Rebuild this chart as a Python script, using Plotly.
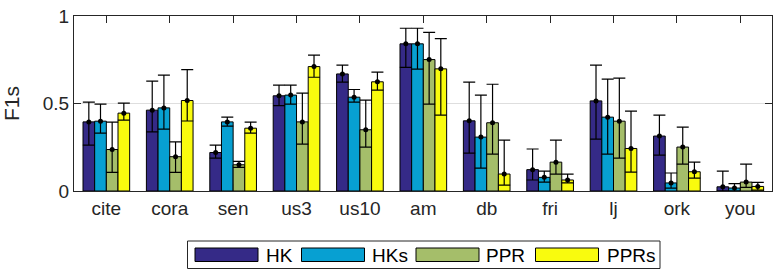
import plotly.graph_objects as go

categories = ["cite", "cora", "sen", "us3", "us10", "am", "db", "fri", "lj", "ork", "you"]
series_names = ["HK", "HKs", "PPR", "PPRs"]
colors = ["#352a87", "#07a0d2", "#a5be6a", "#f9fb0e"]

hk_mean = [0.395, 0.462, 0.220, 0.544, 0.669, 0.841, 0.401, 0.122, 0.515, 0.314, 0.024]
hk_upper = [0.508, 0.628, 0.262, 0.605, 0.719, 0.930, 0.622, 0.240, 0.719, 0.434, 0.114]
hk_lower = [0.262, 0.338, 0.188, 0.488, 0.622, 0.707, 0.217, 0.063, 0.297, 0.205, 0.000]

hks_mean = [0.399, 0.475, 0.395, 0.548, 0.536, 0.841, 0.308, 0.078, 0.422, 0.046, 0.017]
hks_upper = [0.496, 0.662, 0.422, 0.605, 0.580, 0.930, 0.548, 0.114, 0.639, 0.103, 0.042]
hks_lower = [0.331, 0.354, 0.371, 0.496, 0.508, 0.696, 0.131, 0.051, 0.211, 0.017, 0.000]

ppr_mean = [0.237, 0.196, 0.150, 0.395, 0.350, 0.751, 0.390, 0.165, 0.399, 0.251, 0.051]
ppr_upper = [0.394, 0.281, 0.169, 0.559, 0.519, 0.907, 0.610, 0.291, 0.645, 0.365, 0.154]
ppr_lower = [0.106, 0.106, 0.135, 0.268, 0.251, 0.496, 0.211, 0.097, 0.188, 0.154, 0.021]

pprs_mean = [0.445, 0.517, 0.359, 0.711, 0.624, 0.698, 0.097, 0.063, 0.243, 0.110, 0.026]
pprs_upper = [0.502, 0.694, 0.394, 0.776, 0.679, 0.871, 0.291, 0.097, 0.456, 0.165, 0.049]
pprs_lower = [0.405, 0.400, 0.331, 0.650, 0.576, 0.434, 0.034, 0.046, 0.108, 0.074, 0.005]

means = [hk_mean, hks_mean, ppr_mean, pprs_mean]
uppers = [hk_upper, hks_upper, ppr_upper, pprs_upper]
lowers = [hk_lower, hks_lower, ppr_lower, pprs_lower]

yticks = [0, 0.5, 1]
yticktext = ["0", "0.5", "1"]

W, H = 783, 278
ML, MR, MT, MB = 74, 11, 16, 87
PW, PH = W - ML - MR, H - MT - MB
FONT = "Liberation Sans, Arial, sans-serif"
AX = "#262626"

fig = go.Figure()
for i, name in enumerate(series_names):
    m = means[i]
    fig.add_trace(go.Bar(
        x=categories, y=m, name=name, offsetgroup=str(i),
        marker=dict(color=colors[i], line=dict(color="black", width=1)),
        showlegend=False,
    ))
for i, name in enumerate(series_names):
    m, u, lo = means[i], uppers[i], lowers[i]
    fig.add_trace(go.Scatter(
        x=categories, y=m, mode="markers", offsetgroup=str(i),
        marker=dict(color="black", size=5, symbol="circle"),
        error_y=dict(type="data", symmetric=False,
                     array=[a - b for a, b in zip(u, m)],
                     arrayminus=[b - c for b, c in zip(m, lo)],
                     color="black", thickness=1.2, width=6),
        showlegend=False, hoverinfo="skip",
    ))

# helpers converting window pixels to paper coordinates
def px2x(px):
    return (px - ML) / PW

def px2y(py):
    return (H - MB - py) / PH

shapes = []
annotations = []
shapes.append(dict(type="rect", xref="paper", yref="paper",
                   x0=px2x(187.5), x1=px2x(660), y0=px2y(268.5), y1=px2y(241),
                   line=dict(color=AX, width=1), fillcolor="white"))
sw_x = [195, 301.5, 416, 535.5]
txt_x = [264, 370, 483.5, 605]
for i, name in enumerate(series_names):
    shapes.append(dict(type="rect", xref="paper", yref="paper",
                       x0=px2x(sw_x[i]), x1=px2x(sw_x[i] + 63), y0=px2y(261.5), y1=px2y(248),
                       line=dict(color="black", width=1), fillcolor=colors[i]))
    annotations.append(dict(xref="paper", yref="paper", x=px2x(txt_x[i]), y=px2y(255),
                            text=name, showarrow=False, xanchor="left", yanchor="middle",
                            font=dict(family=FONT, size=19, color="black")))

fig.update_layout(
    width=W, height=H,
    margin=dict(l=ML, r=MR, t=MT, b=MB, pad=0, autoexpand=False),
    paper_bgcolor="white", plot_bgcolor="white",
    barmode="group", bargap=0.264, bargroupgap=0,
    scattermode="group", scattergap=0.264,
    font=dict(family=FONT, size=18, color=AX),
    xaxis=dict(type="category", range=[-0.51, 10.5], showline=True, linecolor=AX, linewidth=1,
               mirror="ticks", ticks="inside", ticklen=7, tickcolor=AX, showgrid=False,
               tickfont=dict(size=19, color=AX), layer="below traces", automargin=False),
    yaxis=dict(range=[0, 1], tickvals=yticks, ticktext=yticktext, showline=True, linecolor=AX,
               linewidth=1, mirror="ticks", ticks="inside", ticklen=7, tickcolor=AX,
               showgrid=True, gridcolor="#dedede", gridwidth=1, zeroline=False,
               tickfont=dict(size=19, color=AX), layer="below traces", automargin=False,
               ticklabeloverflow="allow",
               title=dict(text="F1s", font=dict(size=21, color=AX), standoff=17)),
    shapes=shapes, annotations=annotations,
)

fig.write_html("out.html", config={"displayModeBar": False},
               post_script="document.body.style.margin='0';")
